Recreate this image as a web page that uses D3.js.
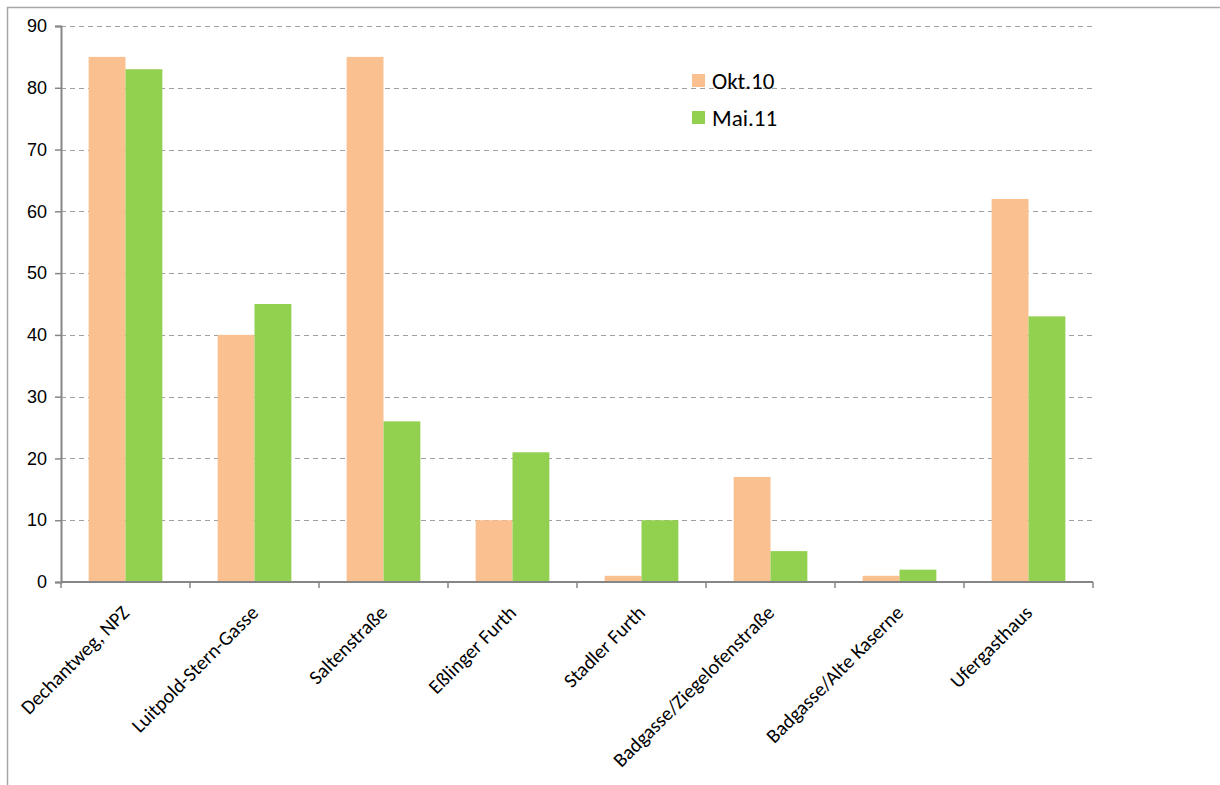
<!DOCTYPE html>
<html>
<head>
<meta charset="utf-8">
<script src="https://cdn.jsdelivr.net/npm/d3@7"></script>
<style>
  body { margin: 0; background: #fff; overflow: hidden; }
  svg { font-family: Carlito, Lato, "Open Sans", sans-serif; display: block; }
</style>
</head>
<body>
<svg id="chart" width="1220" height="785"></svg>
<script>
var categories = [
  'Dechantweg, NPZ',
  'Luitpold-Stern-Gasse',
  'Saltenstraße',
  'Eßlinger Furth',
  'Stadler Furth',
  'Badgasse/Ziegelofenstraße',
  'Badgasse/Alte Kaserne',
  'Ufergasthaus'
];
var seriesNames = ['Okt.10', 'Mai.11'];
var okt10 = [85, 40, 85, 10, 1, 17, 1, 62];
var mai11 = [83, 45, 26, 21, 10, 5, 2, 43];
var yTicks = [0, 10, 20, 30, 40, 50, 60, 70, 80, 90];
var colors = ['#fac090', '#92d050'];

const margin = { left: 61, top: 26, right: 1093, bottom: 582 };

var svg = d3.select('#chart');

// outer chart frame (only top and left edges fall inside the picture)
svg.append('rect')
  .attr('x', 7.5)
  .attr('y', 7.5)
  .attr('width', 1240)
  .attr('height', 800)
  .attr('fill', 'none')
  .attr('stroke', '#a6a6a6')
  .attr('stroke-width', 1.5);

var x = d3.scaleBand().domain(categories).range([margin.left, margin.right]);
var inner = d3.scaleBand().domain(seriesNames).range([0, x.bandwidth()])
  .paddingInner(0).paddingOuter(0.75);
var y = d3.scaleLinear().domain([0, 90]).range([margin.bottom, margin.top]);

// gridlines
svg.append('g')
  .selectAll('line')
  .data(yTicks.filter(function (d) { return d > 0; }))
  .enter()
  .append('line')
  .attr('x1', margin.left)
  .attr('x2', margin.right)
  .attr('y1', function (d) { return Math.round(y(d)) + 0.5; })
  .attr('y2', function (d) { return Math.round(y(d)) + 0.5; })
  .attr('stroke', '#a0a0a0')
  .attr('stroke-width', 1)
  .attr('stroke-dasharray', '5,4');

// bars
var rows = categories.map(function (c, i) {
  return { cat: c, values: [okt10[i], mai11[i]] };
});
var groups = svg.append('g')
  .selectAll('g')
  .data(rows)
  .enter()
  .append('g')
  .attr('transform', function (d) { return 'translate(' + x(d.cat) + ',0)'; });
groups.selectAll('rect')
  .data(function (d) {
    return d.values.map(function (v, j) { return { key: seriesNames[j], value: v, idx: j }; });
  })
  .enter()
  .append('rect')
  .attr('x', function (d) { return inner(d.key); })
  .attr('width', inner.bandwidth())
  .attr('y', function (d) { return y(d.value); })
  .attr('height', function (d) { return y(0) - y(d.value); })
  .attr('fill', function (d) { return colors[d.idx]; });

// y axis
var yAxis = svg.append('g')
  .attr('transform', 'translate(' + margin.left + ',0)')
  .call(d3.axisLeft(y).tickValues(yTicks).tickSize(6).tickPadding(8));
yAxis.select('.domain').attr('stroke', '#868686').attr('stroke-width', 2);
yAxis.selectAll('.tick line').attr('stroke', '#868686').attr('stroke-width', 1.5);
yAxis.selectAll('.tick text')
  .attr('font-size', 18)
  .attr('fill', '#000');

// x axis
var xAxisY = margin.bottom;
var xg = svg.append('g');
xg.append('line')
  .attr('x1', margin.left)
  .attr('x2', margin.right)
  .attr('y1', xAxisY)
  .attr('y2', xAxisY)
  .attr('stroke', '#868686')
  .attr('stroke-width', 2);
xg.selectAll('.xtick')
  .data(categories.concat(['end']))
  .enter()
  .append('line')
  .attr('x1', function (d, i) { return margin.left + i * x.step(); })
  .attr('x2', function (d, i) { return margin.left + i * x.step(); })
  .attr('y1', xAxisY)
  .attr('y2', xAxisY + 6)
  .attr('stroke', '#868686')
  .attr('stroke-width', 1.5);
xg.selectAll('.xlabel')
  .data(categories)
  .enter()
  .append('text')
  .attr('text-anchor', 'end')
  .attr('font-size', 20)
  .attr('fill', '#000')
  .attr('transform', function (d) {
    var cx = x(d) + x.bandwidth() / 2 + 5;
    return 'translate(' + cx + ',' + (xAxisY + 32) + ') rotate(-45)';
  })
  .text(function (d) { return d; });

// legend
var legend = svg.append('g').attr('transform', 'translate(692,74)');
var items = legend.selectAll('g')
  .data(seriesNames)
  .enter()
  .append('g')
  .attr('transform', function (d, i) { return 'translate(0,' + i * 37 + ')'; });
items.append('rect')
  .attr('width', 13)
  .attr('height', 13)
  .attr('fill', function (d, i) { return colors[i]; });
items.append('text')
  .attr('x', 20)
  .attr('y', 15)
  .attr('font-size', 23)
  .attr('fill', '#000')
  .text(function (d) { return d; });
</script>
</body>
</html>
